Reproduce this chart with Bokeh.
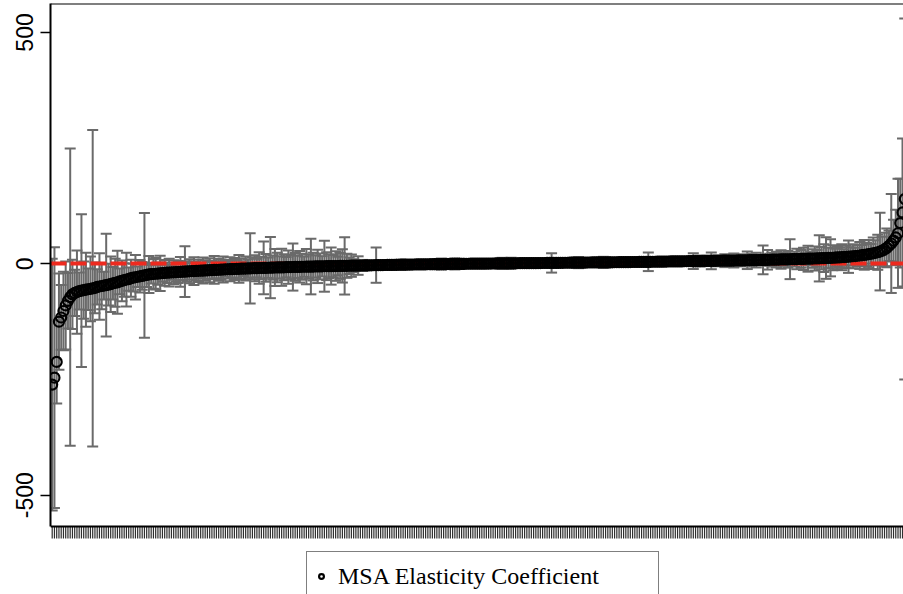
import math
from bokeh.plotting import figure
from bokeh.models import Range1d, FixedTicker, Legend, LegendItem, ColumnDataSource, Span
from bokeh.embed import file_html
from bokeh.resources import INLINE

# ---- data (sorted MSA elasticity coefficients and CI half-widths) ----
coef = [
    -261, -246, -212, -125, -116, -102, -90, -80, -72, -66,
    -63, -61, -59, -58, -57, -56, -55, -54, -53, -52,
    -50, -49, -48, -47, -46, -45, -44, -42, -41, -40,
    -38, -37, -35, -34, -33, -31, -30, -29, -28, -27,
    -26, -25, -24, -23, -22.5, -22, -21.5, -21, -20.5, -20,
    -19.6, -19.2, -18.9, -18.6, -18.3, -18, -17.7, -17.4, -17.1, -16.8,
    -16.5, -16.2, -16, -15.7, -15.4, -15.1, -14.9, -14.6, -14.3, -14.1,
    -13.8, -13.5, -13.3, -13, -12.8, -12.5, -12.3, -12, -11.8, -11.6,
    -11.4, -11.2, -11, -10.8, -10.6, -10.4, -10.2, -10, -9.8, -9.6,
    -9.5, -9.3, -9.1, -9, -8.8, -8.7, -8.5, -8.3, -8.2, -8,
    -7.9, -7.7, -7.6, -7.5, -7.3, -7.2, -7, -6.9, -6.8, -6.6,
    -6.5, -6.4, -6.3, -6.2, -6.1, -6, -5.9, -5.7, -5.6, -5.5,
    -5.4, -5.3, -5.2, -5.1, -5, -4.9, -4.8, -4.7, -4.6, -4.5,
    -4.4, -4.3, -4.2, -4.1, -4, -3.9, -3.8, -3.7, -3.6, -3.5,
    -3.4, -3.3, -3.2, -3.1, -3, -2.9, -2.8, -2.7, -2.6, -2.5,
    -2.4, -2.3, -2.2, -2.1, -2, -1.9, -1.9, -1.8, -1.7, -1.6,
    -1.6, -1.5, -1.4, -1.3, -1.3, -1.2, -1.1, -1, -1, -0.9,
    -0.8, -0.8, -0.7, -0.6, -0.6, -0.5, -0.4, -0.4, -0.3, -0.2,
    -0.2, -0.1, 0, 0, 0.1, 0.1, 0.2, 0.2, 0.3, 0.3,
    0.4, 0.4, 0.5, 0.5, 0.6, 0.6, 0.7, 0.7, 0.8, 0.8,
    0.9, 0.9, 1, 1, 1.1, 1.1, 1.2, 1.2, 1.3, 1.3,
    1.4, 1.4, 1.5, 1.5, 1.6, 1.6, 1.7, 1.7, 1.8, 1.8,
    1.9, 1.9, 2, 2, 2.1, 2.1, 2.2, 2.2, 2.3, 2.3,
    2.4, 2.4, 2.5, 2.5, 2.6, 2.6, 2.7, 2.7, 2.8, 2.8,
    2.9, 2.9, 3, 3, 3.1, 3.1, 3.2, 3.2, 3.3, 3.3,
    3.4, 3.4, 3.5, 3.5, 3.6, 3.7, 3.7, 3.8, 3.9, 3.9,
    4, 4.1, 4.1, 4.2, 4.3, 4.3, 4.4, 4.5, 4.5, 4.6,
    4.7, 4.8, 4.8, 4.9, 5, 5.1, 5.2, 5.2, 5.3, 5.3,
    5.4, 5.5, 5.5, 5.6, 5.7, 5.8, 5.8, 5.9, 6, 6.1,
    6.1, 6.2, 6.3, 6.3, 6.4, 6.5, 6.6, 6.6, 6.7, 6.8,
    6.9, 7, 7, 7.1, 7.2, 7.3, 7.4, 7.5, 7.6, 7.7,
    7.8, 7.9, 8, 8.1, 8.2, 8.3, 8.4, 8.5, 8.6, 8.8,
    8.9, 9, 9.1, 9.2, 9.4, 9.5, 9.6, 9.7, 9.9, 10,
    10.1, 10.3, 10.4, 10.6, 10.7, 10.9, 11, 11.2, 11.4, 11.5,
    11.7, 11.9, 12.1, 12.3, 12.5, 12.7, 12.9, 13.1, 13.4, 13.7,
    14, 14.3, 14.6, 15, 15.4, 15.8, 16.3, 16.8, 17.4, 18,
    18.6, 19.3, 20, 20.8, 21.7, 22.7, 23.8, 25, 26.5, 28.5,
    31, 34.5, 39, 44, 50, 57, 66, 88, 111, 140,
]

err = [
    272, 282, 90, 104, 70, 85, 95, 60, 321, 75,
    50, 90, 40, 165, 62, 80, 45, 70, 342, 55,
    38, 72, 50, 30, 111, 45, 60, 35, 52, 68,
    28, 44, 36, 58, 25, 40, 30, 48, 22, 35,
    30, 135, 26, 40, 20, 32, 34, 24, 38, 18,
    28, 22, 30, 16, 26, 20, 24, 32, 18, 55,
    22, 26, 18, 30, 20, 24, 16, 28, 22, 18,
    26, 20, 30, 18, 24, 22, 28, 16, 20, 26,
    18, 24, 20, 30, 22, 16, 26, 20, 76, 24,
    28, 20, 34, 24, 57, 30, 22, 66, 26, 40,
    32, 24, 40, 28, 22, 36, 26, 51, 30, 24,
    34, 28, 22, 38, 26, 60, 30, 24, 36, 28,
    22, 55, 30, 26, 40, 24, 32, 20, 28, 36,
    62, 26, 18, 24, 14, 10, 20, 8, 12, 6,
    8, 10, 6, 9, 38, 7, 5, 8, 6, 10,
    5, 7, 9, 6, 8, 11, 5, 7, 6, 4,
    6, 5, 7, 4, 8, 6, 5, 7, 4, 6,
    11, 5, 7, 12, 4, 6, 11, 5, 8, 12,
    5, 11, 4, 6, 5, 7, 4, 6, 5, 7,
    4, 6, 5, 4, 7, 5, 6, 4, 10, 11,
    12, 10, 5, 11, 12, 10, 6, 4, 7, 5,
    4, 6, 5, 7, 4, 6, 5, 4, 6, 5,
    7, 4, 21, 5, 6, 4, 7, 5, 6, 4,
    5, 6, 4, 11, 12, 5, 7, 4, 6, 5,
    4, 6, 5, 7, 10, 12, 11, 5, 6, 4,
    7, 5, 4, 6, 5, 7, 4, 6, 5, 4,
    6, 5, 7, 4, 6, 20, 5, 4, 6, 5,
    7, 4, 6, 5, 8, 4, 6, 5, 7, 4,
    6, 5, 4, 7, 5, 17, 6, 4, 12, 5,
    8, 11, 6, 18, 5, 9, 12, 6, 10, 14,
    7, 12, 5, 15, 9, 6, 13, 8, 11, 19,
    6, 14, 10, 16, 7, 12, 31, 9, 21, 13,
    15, 8, 17, 11, 20, 14, 9, 18, 43, 12,
    16, 22, 10, 19, 24, 13, 28, 15, 20, 26,
    18, 50, 24, 30, 45, 22, 40, 27, 19, 25,
    21, 28, 17, 24, 35, 20, 26, 18, 23, 29,
    22, 32, 25, 30, 21, 34, 27, 38, 84, 30,
    36, 42, 33, 107, 45, 60, 118, 96, 160, 390,
]

y_ticks = [-500, 0, 500]
y_tick_labels = {-500: "-500", 0: "0", 500: "500"}
ref_line = [0]
series_label = "MSA Elasticity Coefficient"

# ---- derived ----
N = len(coef)
idx = list(range(1, N + 1))
lo = [c - e for c, e in zip(coef, err)]
hi = [c + e for c, e in zip(coef, err)]
src = ColumnDataSource(dict(x=idx, coef=coef, lo=lo, hi=hi))

# axis geometry (data units)
Y_TOP = 562.6       # top border of the plot box
AXIS_Y = -567.8     # bottom (x) axis of the plot box
Y_VIEW_MIN = -714.7 # lower edge of the page

p = figure(width=903, height=594, output_backend="svg", toolbar_location=None,
           x_range=Range1d(0.244, 379.44), y_range=Range1d(Y_VIEW_MIN, Y_TOP),
           x_axis_location=None,
           min_border_left=50, min_border_right=0, min_border_top=3,
           min_border_bottom=0)
p.outline_line_color = None
p.xgrid.visible = False
p.ygrid.visible = False
p.background_fill_color = "white"
p.border_fill_color = "white"

bar_col = "#6a6a6a"
p.segment(x0="x", y0="lo", x1="x", y1="hi", source=src,
          line_color=bar_col, line_width=2)
p.scatter(x="x", y="lo", source=src, marker="dash", size=11,
          line_color=bar_col, line_width=2)
p.scatter(x="x", y="hi", source=src, marker="dash", size=11,
          line_color=bar_col, line_width=2)
p.hspan(y=ref_line, line_color="#ee2a1f", line_width=4, line_dash="16 4")
pts = p.scatter(x="x", y="coef", source=src, marker="circle", size=10,
                fill_color=None, line_color="black", line_width=2.2)

# x-axis tick marks (one per MSA) hanging below the bottom axis line
p.ray(x="x", y=AXIS_Y, source=src, length=12, length_units="screen",
      angle=-math.pi / 2, line_color="#2e2e2e", line_width=1.2)

# plot box: top border and bottom axis line
p.add_layout(Span(location=Y_TOP, dimension="width", line_color="black",
                  line_width=2))
p.add_layout(Span(location=AXIS_Y, dimension="width", line_color="black",
                  line_width=2))

# y axis
ya = p.yaxis[0]
ya.bounds = (AXIS_Y, Y_TOP)
ya.ticker = FixedTicker(ticks=y_ticks)
ya.major_label_overrides = y_tick_labels
ya.minor_tick_line_color = None
ya.major_tick_out = 10
ya.major_tick_in = 0
ya.major_tick_line_color = "black"
ya.major_tick_line_width = 1.5
ya.axis_line_color = "black"
ya.axis_line_width = 2
ya.major_label_orientation = "vertical"
ya.major_label_text_font = "Liberation Sans"
ya.major_label_text_font_size = "23px"
ya.major_label_text_color = "black"
ya.major_label_standoff = 7

legend = Legend(items=[LegendItem(label=series_label, renderers=[pts])],
                location=(256, -7), orientation="vertical",
                padding=8, margin=0, spacing=0,
                glyph_width=12, glyph_height=32, label_height=32,
                label_standoff=11, label_width=312,
                label_text_font="Liberation Serif", label_text_font_size="24px",
                label_text_color="black",
                border_line_color="black", border_line_width=1.6,
                background_fill_color="white", background_fill_alpha=1)
p.add_layout(legend, "center")

open("out.html", "w").write(file_html(p, INLINE))
